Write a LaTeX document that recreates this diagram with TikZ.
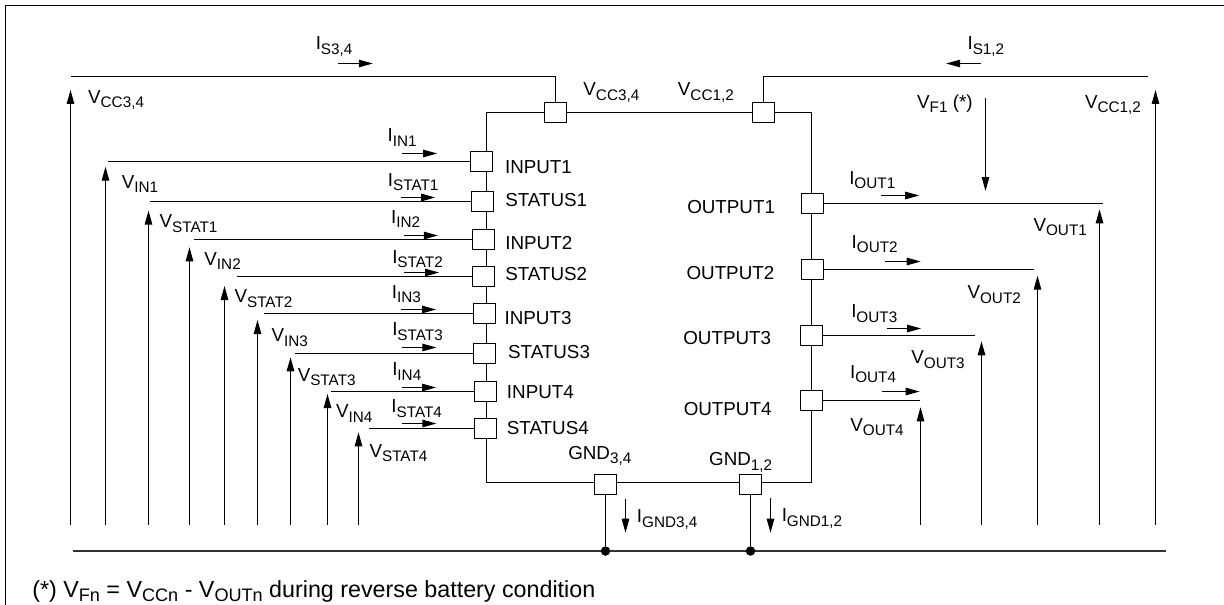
\documentclass[tikz,border=0pt]{standalone}
\usepackage{fontspec}
\usepackage{tikz}
\usetikzlibrary{arrows.meta}
\setmainfont{Liberation Sans}
\newcommand{\lsub}[2]{#1\raisebox{-2.5pt}{\fontsize{8.7}{10}\selectfont #2}}
\newcommand{\nsub}[2]{#1\raisebox{-2.8pt}{\fontsize{10.3}{12}\selectfont #2}}
\tikzset{
    wire/.style={line width=0.6pt},
    sense/.style={line width=0.6pt,-{Triangle[length=0.28cm,width=0.15cm]}},
    pin/.style={draw,fill=white,line width=0.6pt,minimum width=0.44cm,minimum height=0.40cm,inner sep=0pt},
    lab/.style={anchor=base west,inner sep=0pt,font=\fontsize{10.7}{13}\selectfont},
    junction/.style={circle,fill=black,inner sep=0pt,minimum size=0.19cm}
}
\begin{document}
\begin{tikzpicture}[x=0.02cm,y=-0.02cm]
    \useasboundingbox (0,0) rectangle (1224,605);
    % frame
    \draw [wire] (5.5,605) -- (5.5,5.5) -- (1224,5.5);
    % device body
    \draw [wire] (486.5,112.5) rectangle (811.5,482.5);
    % pins
    \node [pin] (VCC34) at (555.5,112.5) {};
    \node [pin] (VCC12) at (763.5,112.5) {};
    \node [pin] (INPUT1) at (481.5,161.5) {};
    \node [pin] (STATUS1) at (482.5,201.5) {};
    \node [pin] (INPUT2) at (483.5,239.5) {};
    \node [pin] (STATUS2) at (483.5,276.5) {};
    \node [pin] (INPUT3) at (484.5,313.5) {};
    \node [pin] (STATUS3) at (484.5,353.5) {};
    \node [pin] (INPUT4) at (485.5,391.5) {};
    \node [pin] (STATUS4) at (485.5,428.5) {};
    \node [pin] (OUTPUT1) at (812.5,203.5) {};
    \node [pin] (OUTPUT2) at (812.5,269.5) {};
    \node [pin] (OUTPUT3) at (811.5,335.5) {};
    \node [pin] (OUTPUT4) at (811.5,400.5) {};
    \node [pin] (GND34) at (605.5,484.5) {};
    \node [pin] (GND12) at (750.5,484.5) {};
    % supply wires
    \coordinate (wS34) at (70.5,76.5);
    \coordinate (wS12) at (1147.5,76.5);
    \draw [wire] (VCC34) |- (wS34);
    \draw [wire] (VCC12) |- (wS12);
    % input wires
    \coordinate (wIN1) at (107.5,161.5);
    \coordinate (wSTAT1) at (149.5,201.5);
    \coordinate (wIN2) at (193.5,239.5);
    \coordinate (wSTAT2) at (236.5,276.5);
    \coordinate (wIN3) at (263.5,313.5);
    \coordinate (wSTAT3) at (294.5,353.5);
    \coordinate (wIN4) at (330.5,391.5);
    \coordinate (wSTAT4) at (368.5,428.5);
    \draw [wire] (INPUT1) -- (wIN1);
    \draw [wire] (STATUS1) -- (wSTAT1);
    \draw [wire] (INPUT2) -- (wIN2);
    \draw [wire] (STATUS2) -- (wSTAT2);
    \draw [wire] (INPUT3) -- (wIN3);
    \draw [wire] (STATUS3) -- (wSTAT3);
    \draw [wire] (INPUT4) -- (wIN4);
    \draw [wire] (STATUS4) -- (wSTAT4);
    % output wires
    \coordinate (wOUT1) at (1103,203.5);
    \coordinate (wOUT2) at (1033.5,269.5);
    \coordinate (wOUT3) at (974.5,335.5);
    \coordinate (wOUT4) at (919.5,400.5);
    \draw [wire] (OUTPUT1) -- (wOUT1);
    \draw [wire] (OUTPUT2) -- (wOUT2);
    \draw [wire] (OUTPUT3) -- (wOUT3);
    \draw [wire] (OUTPUT4) -- (wOUT4);
    % ground rail
    \coordinate (railL) at (72.5,551);
    \coordinate (railR) at (1165.9,551);
    \draw [line width=0.6pt,black!80] (railL) -- (railR);
    \node [junction] (dot34) at (605.5,551) {};
    \node [junction] (dot12) at (750.5,551) {};
    \draw [wire] (GND34) -- (dot34);
    \draw [wire] (GND12) -- (dot12);
    % voltage arrows
    \coordinate (vCC34a) at (70.5,525); \coordinate (vCC34b) at (70.5,90);
    \coordinate (vCC12a) at (1155.5,525); \coordinate (vCC12b) at (1155.5,90);
    \coordinate (vIN1a) at (105.5,525); \coordinate (vIN1b) at (105.5,166.7);
    \coordinate (vSTAT1a) at (148.5,525); \coordinate (vSTAT1b) at (148.5,210.7);
    \coordinate (vIN2a) at (189.5,525); \coordinate (vIN2b) at (189.5,247.3);
    \coordinate (vSTAT2a) at (224.5,525); \coordinate (vSTAT2b) at (224.5,286);
    \coordinate (vIN3a) at (257.5,525); \coordinate (vIN3b) at (257.5,320);
    \coordinate (vSTAT3a) at (290.5,525); \coordinate (vSTAT3b) at (290.5,357.3);
    \coordinate (vIN4a) at (327.5,525); \coordinate (vIN4b) at (327.5,394);
    \coordinate (vSTAT4a) at (358.5,525); \coordinate (vSTAT4b) at (358.5,432.3);
    \coordinate (vOUT1a) at (1099.5,525); \coordinate (vOUT1b) at (1099.5,209.3);
    \coordinate (vOUT2a) at (1037.5,525); \coordinate (vOUT2b) at (1037.5,275.7);
    \coordinate (vOUT3a) at (981.5,525); \coordinate (vOUT3b) at (981.5,341.3);
    \coordinate (vOUT4a) at (920.5,525); \coordinate (vOUT4b) at (920.5,407.3);
    \coordinate (vF1a) at (985.5,97.7); \coordinate (vF1b) at (985.5,191);
    \draw [sense] (vCC34a) -- (vCC34b);
    \draw [sense] (vCC12a) -- (vCC12b);
    \draw [sense] (vIN1a) -- (vIN1b);
    \draw [sense] (vSTAT1a) -- (vSTAT1b);
    \draw [sense] (vIN2a) -- (vIN2b);
    \draw [sense] (vSTAT2a) -- (vSTAT2b);
    \draw [sense] (vIN3a) -- (vIN3b);
    \draw [sense] (vSTAT3a) -- (vSTAT3b);
    \draw [sense] (vIN4a) -- (vIN4b);
    \draw [sense] (vSTAT4a) -- (vSTAT4b);
    \draw [sense] (vOUT1a) -- (vOUT1b);
    \draw [sense] (vOUT2a) -- (vOUT2b);
    \draw [sense] (vOUT3a) -- (vOUT3b);
    \draw [sense] (vOUT4a) -- (vOUT4b);
    \draw [sense] (vF1a) -- (vF1b);
    % current arrows
    \coordinate (iS34a) at (338,63.5); \coordinate (iS34b) at (372.8,63.5);
    \coordinate (iS12a) at (980.5,63.5); \coordinate (iS12b) at (946.1,63.5);
    \coordinate (iIN1a) at (402.4,153.5); \coordinate (iIN1b) at (437.2,153.5);
    \coordinate (iSTAT1a) at (400.5,197.5); \coordinate (iSTAT1b) at (435.2,197.5);
    \coordinate (iIN2a) at (403.6,235.5); \coordinate (iIN2b) at (437.9,235.5);
    \coordinate (iSTAT2a) at (404,272.5); \coordinate (iSTAT2b) at (439.1,272.5);
    \coordinate (iIN3a) at (400.9,309.5); \coordinate (iIN3b) at (436,309.5);
    \coordinate (iSTAT3a) at (402,347.5); \coordinate (iSTAT3b) at (436.4,347.5);
    \coordinate (iIN4a) at (401.6,387.5); \coordinate (iIN4b) at (436,387.5);
    \coordinate (iSTAT4a) at (402.4,423.5); \coordinate (iSTAT4b) at (436.4,423.5);
    \coordinate (iOUT1a) at (881.3,195.5); \coordinate (iOUT1b) at (919.2,195.5);
    \coordinate (iOUT2a) at (885.2,261.5); \coordinate (iOUT2b) at (920.7,261.5);
    \coordinate (iOUT3a) at (887.2,328.5); \coordinate (iOUT3b) at (921.1,328.5);
    \coordinate (iOUT4a) at (881.7,391.5); \coordinate (iOUT4b) at (919.6,391.5);
    \coordinate (iGND34a) at (625.5,498.7); \coordinate (iGND34b) at (625.5,532.7);
    \coordinate (iGND12a) at (770.5,498); \coordinate (iGND12b) at (770.5,532.7);
    \draw [sense] (iS34a) -- (iS34b);
    \draw [sense] (iS12a) -- (iS12b);
    \draw [sense] (iIN1a) -- (iIN1b);
    \draw [sense] (iSTAT1a) -- (iSTAT1b);
    \draw [sense] (iIN2a) -- (iIN2b);
    \draw [sense] (iSTAT2a) -- (iSTAT2b);
    \draw [sense] (iIN3a) -- (iIN3b);
    \draw [sense] (iSTAT3a) -- (iSTAT3b);
    \draw [sense] (iIN4a) -- (iIN4b);
    \draw [sense] (iSTAT4a) -- (iSTAT4b);
    \draw [sense] (iOUT1a) -- (iOUT1b);
    \draw [sense] (iOUT2a) -- (iOUT2b);
    \draw [sense] (iOUT3a) -- (iOUT3b);
    \draw [sense] (iOUT4a) -- (iOUT4b);
    \draw [sense] (iGND34a) -- (iGND34b);
    \draw [sense] (iGND12a) -- (iGND12b);
    % pin names
    \node [lab] (nINPUT1) at (504.7,173.7) {INPUT1};
    \node [lab] (nSTATUS1) at (505,206) {STATUS1};
    \node [lab] (nINPUT2) at (505,249) {INPUT2};
    \node [lab] (nSTATUS2) at (505,280) {STATUS2};
    \node [lab] (nINPUT3) at (504.3,324.7) {INPUT3};
    \node [lab] (nSTATUS3) at (507.8,358.3) {STATUS3};
    \node [lab] (nINPUT4) at (506.6,398.7) {INPUT4};
    \node [lab] (nSTATUS4) at (506.6,434.7) {STATUS4};
    \node [lab] (nOUTPUT1) at (686.9,213) {OUTPUT1};
    \node [lab] (nOUTPUT2) at (686.2,279.3) {OUTPUT2};
    \node [lab] (nOUTPUT3) at (683,344.3) {OUTPUT3};
    \node [lab] (nOUTPUT4) at (683.4,415) {OUTPUT4};
    \node [lab] (nGND34) at (567.9,459.3) {\lsub{GND}{3,4}};
    \node [lab] (nGND12) at (708.8,465.7) {\lsub{GND}{1,2}};
    \node [lab] (nVCC34) at (583.1,95.7) {\lsub{V}{CC3,4}};
    \node [lab] (nVCC12) at (677.6,95.7) {\lsub{V}{CC1,2}};
    % voltage names
    \node [lab] (lVCC34) at (87.8,103) {\lsub{V}{CC3,4}};
    \node [lab] (lVCC12) at (1084.7,108.3) {\lsub{V}{CC1,2}};
    \node [lab] (lVIN1) at (121.4,188) {\lsub{V}{IN1}};
    \node [lab] (lVSTAT1) at (159.3,227.7) {\lsub{V}{STAT1}};
    \node [lab] (lVIN2) at (204.1,265) {\lsub{V}{IN2}};
    \node [lab] (lVSTAT2) at (234.2,302.7) {\lsub{V}{STAT2}};
    \node [lab] (lVIN3) at (271.3,341.7) {\lsub{V}{IN3}};
    \node [lab] (lVSTAT3) at (297.4,381) {\lsub{V}{STAT3}};
    \node [lab] (lVIN4) at (335.7,417.7) {\lsub{V}{IN4}};
    \node [lab] (lVSTAT4) at (369.2,457) {\lsub{V}{STAT4}};
    \node [lab] (lVOUT1) at (1033.2,231) {\lsub{V}{OUT1}};
    \node [lab] (lVOUT2) at (967.2,298.7) {\lsub{V}{OUT2}};
    \node [lab] (lVOUT3) at (911,363.7) {\lsub{V}{OUT3}};
    \node [lab] (lVOUT4) at (850,431) {\lsub{V}{OUT4}};
    \node [lab] (lVF1) at (916.8,108.3) {\lsub{V}{F1} (*)};
    % current names
    \node [lab] (lIS34) at (315.4,50) {\lsub{I}{S3,4}};
    \node [lab] (lIS12) at (967.2,50) {\lsub{I}{S1,2}};
    \node [lab] (lIIN1) at (387.2,141.7) {\lsub{I}{IN1}};
    \node [lab] (lISTAT1) at (387.6,186) {\lsub{I}{STAT1}};
    \node [lab] (lIIN2) at (390.7,223.3) {\lsub{I}{IN2}};
    \node [lab] (lISTAT2) at (391.9,263.3) {\lsub{I}{STAT2}};
    \node [lab] (lIIN3) at (391.5,298.3) {\lsub{I}{IN3}};
    \node [lab] (lISTAT3) at (391.9,335.7) {\lsub{I}{STAT3}};
    \node [lab] (lIIN4) at (391.9,375.7) {\lsub{I}{IN4}};
    \node [lab] (lISTAT4) at (391.1,412.7) {\lsub{I}{STAT4}};
    \node [lab] (lIOUT1) at (848.9,184) {\lsub{I}{OUT1}};
    \node [lab] (lIOUT2) at (851.3,248.3) {\lsub{I}{OUT2}};
    \node [lab] (lIOUT3) at (850.9,317.7) {\lsub{I}{OUT3}};
    \node [lab] (lIOUT4) at (849.7,378.3) {\lsub{I}{OUT4}};
    \node [lab] (lIGND34) at (636.6,522.7) {\lsub{I}{GND3,4}};
    \node [lab] (lIGND12) at (781.4,521.7) {\lsub{I}{GND1,2}};
    % footnote
    \node [lab,font=\fontsize{13.25}{15}\selectfont] (note) at (32,597) {(*) \nsub{V}{Fn} = \nsub{V}{CCn} - \nsub{V}{OUTn} during reverse battery condition};
\end{tikzpicture}
\end{document}
